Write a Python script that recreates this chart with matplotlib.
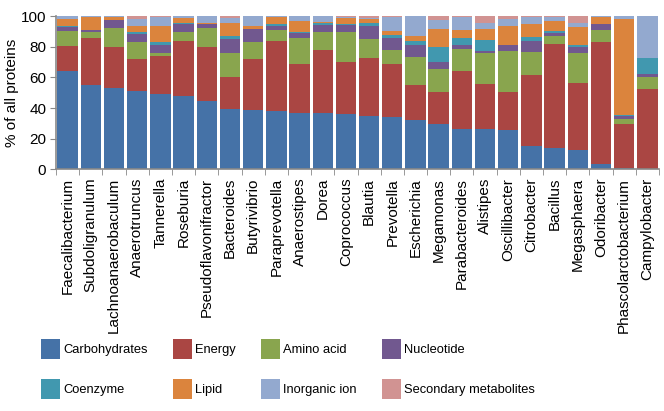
import matplotlib
matplotlib.use("Agg")
import matplotlib.pyplot as plt
from matplotlib.patches import Patch
import numpy as np

plt.rcParams['font.family'] = ['Liberation Sans', 'DejaVu Sans']

genera = ["Faecalibacterium", "Subdoligranulum", "Lachnoanaerobaculum", "Anaerotruncus",
          "Tannerella", "Roseburia", "Pseudoflavonifractor", "Bacteroides", "Butyrivibrio",
          "Paraprevotella", "Anaerostipes", "Dorea", "Coprococcus", "Blautia", "Prevotella",
          "Escherichia", "Megamonas", "Parabacteroides", "Alistipes", "Oscillibacter",
          "Citrobacter", "Bacillus", "Megasphaera", "Odoribacter", "Phascolarctobacterium",
          "Campylobacter"]

# % of all proteins per functional category
carbohydrates = [64.1, 55.0, 53.3, 50.9, 48.9, 48.0, 44.8, 39.3, 38.9, 38.0, 36.7, 36.5, 36.3,
                 34.8, 34.1, 32.2, 29.6, 26.3, 26.1, 25.7, 15.2, 14.3, 12.6, 3.9, 1.1, 0.0]
energy = [16.6, 30.9, 26.5, 21.1, 25.2, 35.7, 35.2, 21.1, 33.1, 45.9, 32.2, 41.3, 33.5,
          37.6, 34.6, 22.6, 20.6, 37.8, 29.6, 24.5, 46.3, 67.4, 43.9, 79.4, 28.5, 52.2]
amino_acid = [9.3, 3.9, 12.4, 11.3, 1.6, 5.6, 12.2, 15.3, 10.8, 7.0, 16.5, 11.5, 19.8,
              12.4, 8.9, 18.5, 15.2, 14.4, 20.4, 27.2, 15.0, 5.3, 19.6, 7.6, 3.0, 8.0]
nucleotide = [3.0, 1.1, 5.0, 5.2, 5.6, 5.5, 2.6, 9.3, 8.7, 2.8, 3.5, 4.8, 4.5,
              8.5, 8.3, 8.0, 4.8, 2.6, 1.3, 3.7, 7.4, 2.1, 3.9, 3.9, 2.4, 2.0]
coenzyme = [0.3, 0.0, 0.0, 1.1, 2.0, 0.4, 0.2, 2.2, 0.3, 0.9, 0.9, 1.5, 0.7,
            1.9, 1.7, 2.2, 9.6, 4.8, 6.9, 0.2, 2.6, 0.9, 1.1, 0.2, 0.2, 10.6]
lipid = [5.0, 8.2, 2.4, 3.9, 10.4, 3.3, 0.2, 8.0, 1.5, 5.0, 6.9, 0.3, 3.7,
         2.6, 2.6, 3.5, 11.7, 5.0, 7.0, 11.9, 8.3, 7.0, 11.5, 4.1, 63.0, 0.0]
inorganic_ion = [1.5, 0.9, 0.3, 4.8, 5.9, 1.5, 4.8, 3.3, 6.7, 0.2, 3.3, 4.0, 1.1,
                 1.1, 9.4, 13.0, 5.9, 8.2, 3.9, 4.8, 4.8, 2.6, 3.1, 0.9, 1.6, 27.2]
secondary = [0.2, 0.0, 0.1, 1.7, 0.4, 0.0, 0.0, 1.5, 0.0, 0.2, 0.0, 0.1, 0.4,
             1.1, 0.4, 0.0, 2.6, 0.9, 4.8, 2.2, 0.4, 0.4, 4.3, 0.0, 0.2, 0.0]

series = [("Carbohydrates", carbohydrates, "#4572A7"),
          ("Energy", energy, "#AA4643"),
          ("Amino acid", amino_acid, "#89A54E"),
          ("Nucleotide", nucleotide, "#71588F"),
          ("Coenzyme", coenzyme, "#4198AF"),
          ("Lipid", lipid, "#DB843D"),
          ("Inorganic ion", inorganic_ion, "#93A9CF"),
          ("Secondary metabolites", secondary, "#D19392")]

fig = plt.figure(figsize=(6.64, 4.11), dpi=100)
ax = fig.add_axes([56 / 664, 1 - 169.5 / 411, 603 / 664, 153.5 / 411])

x = np.arange(len(genera))
bottom = np.zeros(len(genera))
for name, vals, col in series:
    vals = np.array(vals)
    ax.bar(x, vals, width=0.88, bottom=bottom, color=col, linewidth=0)
    bottom += vals

ax.set_xlim(-0.5, len(genera) - 0.5)
ax.set_ylim(0, 100)
ax.set_yticks([0, 20, 40, 60, 80, 100])
ax.tick_params(axis='y', labelsize=11, length=4, color='#888888', pad=3)

ax.set_xticks(x)
ax.set_xticklabels(genera, rotation=90, fontsize=11)
ax.tick_params(axis='x', which='major', length=0, pad=6)
ax.set_xticks(np.arange(len(genera) + 1) - 0.5, minor=True)
ax.tick_params(axis='x', which='minor', length=4, color='#888888')

for s in ['top', 'right']:
    ax.spines[s].set_visible(False)
for s in ['left', 'bottom']:
    ax.spines[s].set_color('#888888')
    ax.spines[s].set_linewidth(1.2)

ax.set_ylabel("% of all proteins", fontsize=11, labelpad=1)

# legend: two rows of four, filled column by column like the original
order = [0, 4, 1, 5, 2, 6, 3, 7]
handles = [Patch(facecolor=series[i][2], edgecolor='none') for i in order]
labels = [series[i][0] for i in order]
fig.legend(handles, labels, loc='upper left', bbox_to_anchor=(41 / 664, 1 - 339 / 411),
           ncol=4, frameon=False, fontsize=9.3, handlelength=1.47, handleheight=2.0,
           handletextpad=0.25, columnspacing=1.95, labelspacing=1.55,
           borderpad=0, borderaxespad=0)

fig.savefig("out.png", dpi=100)
